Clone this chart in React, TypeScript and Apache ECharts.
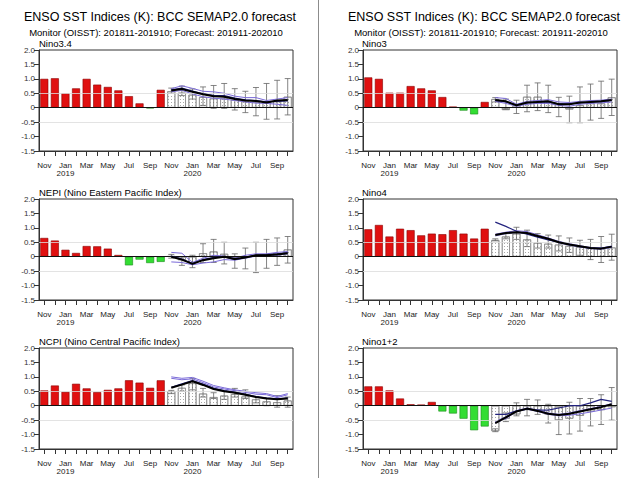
import React, { useEffect, useRef } from "react";
import * as echarts from "echarts";

const FONT = "'Liberation Sans', Arial, Helvetica, sans-serif";

const months = ["Nov","Dec","Jan","Feb","Mar","Apr","May","Jun","Jul","Aug","Sep","Oct","Nov","Dec","Jan","Feb","Mar","Apr","May","Jun","Jul","Aug","Sep","Oct"];
const years = ["2018","2018","2019","2019","2019","2019","2019","2019","2019","2019","2019","2019","2019","2019","2020","2020","2020","2020","2020","2020","2020","2020","2020","2020"];
const categories = months.map((m, i) => m + " " + years[i]);
const yTicks = [-1.5, -1.0, -0.5, 0, 0.5, 1.0, 1.5, 2.0];

const mainTitle = "ENSO SST Indices (K): BCC SEMAP2.0 forecast";
const subTitle = "Monitor (OISST): 201811-201910; Forecast: 201911-202010";

// Nino3.4
const nino34Obs = [1.0, 1.02, 0.5, 0.67, 1.0, 0.8, 0.72, 0.6, 0.4, 0.15, -0.02, 0.62];
const nino34Fcst = [0.57, 0.52, 0.45, 0.37, 0.32, 0.32, 0.27, 0.22, 0.2, 0.22, 0.22, 0.38];
const nino34ErrHi = [0.68, 0.75, 0.65, 0.72, 0.77, 0.84, 0.66, 0.57, 0.7, 0.84, 0.95, 1.01];
const nino34ErrLo = [0.5, 0.42, 0.3, 0.08, -0.02, -0.02, -0.08, -0.17, -0.28, -0.4, -0.39, -0.25];
const nino34Mean = [0.6, 0.65, 0.55, 0.47, 0.4, 0.38, 0.3, 0.25, 0.23, 0.18, 0.25, 0.27];
const nino34Navy = [0.62, 0.68, 0.58, 0.48, 0.43, 0.42, 0.33, 0.27, 0.25, 0.2, 0.22, 0.24];
const nino34PurpleHi = [0.66, 0.76, 0.67, 0.57, 0.55, 0.5, 0.4, 0.35, 0.35, 0.25, 0.3, 0.35];
const nino34PurpleLo = [0.55, 0.6, 0.48, 0.38, 0.33, 0.3, 0.25, 0.2, 0.16, 0.15, 0.12, 0.08];

// Nino3
const nino3Obs = [1.05, 1.0, 0.52, 0.52, 0.75, 0.67, 0.6, 0.37, 0.04, -0.1, -0.23, 0.2];
const nino3Fcst = [0.3, -0.08, 0.08, 0.38, 0.38, 0.25, 0.15, -0.06, 0.09, 0.15, 0.15, 0.36];
const nino3ErrHi = [0.35, 0.3, 0.26, 0.78, 0.86, 0.78, 0.36, 0.4, 0.72, 0.82, 0.92, 0.99];
const nino3ErrLo = [0.2, -0.05, -0.2, -0.14, -0.1, -0.17, -0.31, -0.52, -0.52, -0.43, -0.37, -0.27];
const nino3Mean = [0.27, 0.22, 0.08, 0.18, 0.2, 0.22, 0.12, 0.12, 0.18, 0.2, 0.22, 0.27];
const nino3Navy = [0.25, 0.2, 0.1, 0.17, 0.19, 0.2, 0.13, 0.13, 0.17, 0.19, 0.21, 0.25];
const nino3PurpleHi = [0.35, 0.32, 0.12, 0.22, 0.25, 0.28, 0.2, 0.18, 0.22, 0.25, 0.26, 0.3];
const nino3PurpleLo = [0.22, 0.15, 0.05, 0.12, 0.15, 0.15, 0.08, 0.05, 0.12, 0.15, 0.17, 0.2];

// NEPI
const nepiObs = [0.65, 0.56, 0.24, 0.13, 0.37, 0.36, 0.28, 0.06, -0.3, -0.1, -0.22, -0.18];
const nepiFcst = [0.02, -0.12, -0.22, 0.12, 0.18, 0.1, -0.05, 0.0, 0.05, 0.08, 0.12, 0.25];
const nepiErrHi = [0.08, 0.0, 0.05, 0.45, 0.6, 0.5, 0.1, 0.3, 0.5, 0.6, 0.65, 0.7];
const nepiErrLo = [-0.05, -0.3, -0.38, -0.2, -0.2, -0.25, -0.4, -0.42, -0.55, -0.4, -0.3, -0.22];
const nepiMean = [0.0, -0.1, -0.25, -0.12, -0.05, 0.0, -0.08, -0.03, 0.05, 0.05, 0.08, 0.12];
const nepiNavy = [0.02, -0.08, -0.24, -0.1, -0.02, 0.0, -0.1, -0.02, 0.06, 0.07, 0.1, 0.14];
const nepiPurpleHi = [0.15, 0.12, -0.2, -0.05, 0.05, 0.02, -0.05, 0.05, 0.1, 0.1, 0.15, 0.18];
const nepiPurpleLo = [-0.18, -0.2, -0.28, -0.22, -0.18, -0.1, -0.12, -0.05, 0.02, 0.05, 0.05, 0.1];

// Nino4
const nino4Obs = [0.95, 1.1, 0.7, 0.97, 0.92, 0.74, 0.8, 0.78, 0.92, 0.8, 0.63, 0.97];
const nino4Fcst = [0.58, 0.7, 0.8, 0.6, 0.48, 0.45, 0.42, 0.38, 0.33, 0.3, 0.3, 0.32];
const nino4ErrHi = [0.62, 0.8, 1.02, 0.92, 0.8, 0.75, 0.72, 0.65, 0.57, 0.6, 0.7, 0.78];
const nino4ErrLo = [0.55, 0.62, 0.6, 0.35, 0.3, 0.3, 0.2, 0.15, 0.05, -0.1, -0.2, -0.12];
const nino4Mean = [0.75, 0.82, 0.85, 0.82, 0.72, 0.62, 0.5, 0.42, 0.36, 0.3, 0.28, 0.35];
const nino4Navy = [1.2, 1.05, 0.88, 0.78, 0.68, 0.58, 0.5, 0.42, 0.35, 0.3, 0.3, 0.35];
const nino4PurpleHi = [0.78, 0.85, 0.9, 0.87, 0.76, 0.65, 0.53, 0.45, 0.38, 0.32, 0.3, 0.37];
const nino4PurpleLo = [0.72, 0.8, 0.84, 0.8, 0.7, 0.6, 0.48, 0.4, 0.34, 0.28, 0.26, 0.32];

// NCPI
const ncpiObs = [0.53, 0.7, 0.48, 0.76, 0.6, 0.47, 0.55, 0.6, 0.88, 0.8, 0.62, 0.88];
const ncpiFcst = [0.5, 0.62, 0.78, 0.42, 0.3, 0.35, 0.4, 0.32, 0.22, 0.15, 0.12, 0.18];
const ncpiErrHi = [0.53, 0.72, 0.95, 0.6, 0.45, 0.5, 0.6, 0.55, 0.32, 0.25, 0.35, 0.3];
const ncpiErrLo = [0.42, 0.5, 0.55, 0.3, 0.25, 0.22, 0.3, 0.25, 0.1, 0.0, -0.05, -0.05];
const ncpiMean = [0.62, 0.73, 0.85, 0.72, 0.58, 0.5, 0.45, 0.38, 0.3, 0.25, 0.22, 0.25];
const ncpiNavy = [0.64, 0.76, 0.87, 0.75, 0.6, 0.52, 0.47, 0.4, 0.32, 0.27, 0.24, 0.27];
const ncpiPurpleHi = [1.0, 0.95, 0.98, 0.85, 0.7, 0.62, 0.55, 0.5, 0.45, 0.42, 0.32, 0.42];
const ncpiPurpleLo = [0.95, 0.9, 0.93, 0.8, 0.65, 0.58, 0.52, 0.46, 0.4, 0.38, 0.28, 0.38];

// Nino1+2
const nino12Obs = [0.67, 0.67, 0.53, 0.25, 0.05, 0.04, 0.13, -0.2, -0.27, -0.45, -0.85, -0.72];
const nino12Fcst = [-0.88, -0.45, -0.3, -0.15, -0.15, -0.3, -0.5, -0.45, -0.35, -0.2, -0.15, -0.05];
const nino12ErrHi = [-0.8, -0.25, 0.1, 0.22, 0.2, 0.05, -0.05, 0.12, 0.25, 0.25, 0.38, 0.63];
const nino12ErrLo = [-0.9, -0.55, -0.35, -0.35, -0.3, -0.6, -1.0, -0.98, -0.88, -0.7, -0.65, -0.5];
const nino12Mean = [-0.6, -0.4, -0.2, -0.1, -0.18, -0.28, -0.32, -0.28, -0.2, -0.12, -0.05, 0.05];
const nino12Navy = [-0.3, -0.3, -0.18, -0.12, -0.15, -0.15, -0.08, 0.0, 0.0, 0.1, 0.22, 0.15];
const nino12PurpleHi = [-0.55, -0.38, -0.17, -0.08, -0.15, -0.25, -0.3, -0.25, -0.17, -0.1, -0.02, 0.07];
const nino12PurpleLo = [-0.6, -0.45, -0.2, -0.12, -0.2, -0.3, -0.35, -0.33, -0.28, -0.22, -0.15, -0.08];

const panels = [
  { name: "Nino3.4", obs: nino34Obs, fcst: nino34Fcst, hi: nino34ErrHi, lo: nino34ErrLo, mean: nino34Mean, navy: nino34Navy, pHi: nino34PurpleHi, pLo: nino34PurpleLo },
  { name: "NEPI (Nino Eastern Pacific Index)", obs: nepiObs, fcst: nepiFcst, hi: nepiErrHi, lo: nepiErrLo, mean: nepiMean, navy: nepiNavy, pHi: nepiPurpleHi, pLo: nepiPurpleLo },
  { name: "NCPI (Nino Central Pacific Index)", obs: ncpiObs, fcst: ncpiFcst, hi: ncpiErrHi, lo: ncpiErrLo, mean: ncpiMean, navy: ncpiNavy, pHi: ncpiPurpleHi, pLo: ncpiPurpleLo },
  { name: "Nino3", obs: nino3Obs, fcst: nino3Fcst, hi: nino3ErrHi, lo: nino3ErrLo, mean: nino3Mean, navy: nino3Navy, pHi: nino3PurpleHi, pLo: nino3PurpleLo },
  { name: "Nino4", obs: nino4Obs, fcst: nino4Fcst, hi: nino4ErrHi, lo: nino4ErrLo, mean: nino4Mean, navy: nino4Navy, pHi: nino4PurpleHi, pLo: nino4PurpleLo },
  { name: "Nino1+2", obs: nino12Obs, fcst: nino12Fcst, hi: nino12ErrHi, lo: nino12ErrLo, mean: nino12Mean, navy: nino12Navy, pHi: nino12PurpleHi, pLo: nino12PurpleLo },
];

const layout = [
  { left: 39, top: 50 },
  { left: 39, top: 199 },
  { left: 39, top: 348 },
  { left: 363, top: 50 },
  { left: 363, top: 199 },
  { left: 363, top: 348 },
];
const GW = 254;
const GH = 101;

const blanks = (n: number) => Array.from({ length: n }, () => "-");

function buildOption() {
  const grid: any[] = [];
  const xAxis: any[] = [];
  const yAxis: any[] = [];
  const series: any[] = [];
  const graphic: any[] = [];

  panels.forEach((p, i) => {
    const l = layout[i];
    grid.push({ left: l.left, top: l.top, width: GW, height: GH, show: true, borderColor: "#333", borderWidth: 1, backgroundColor: "transparent" });
    xAxis.push({
      type: "category",
      gridIndex: i,
      data: categories,
      boundaryGap: true,
      axisLine: { show: true, onZero: false, lineStyle: { color: "#333", width: 1 } },
      axisTick: { show: true, alignWithLabel: true, interval: 0, length: 5, inside: false, lineStyle: { color: "#333", width: 1 } },
      axisLabel: {
        interval: 1,
        fontSize: 8,
        fontFamily: FONT,
        color: "#222",
        margin: 10,
        lineHeight: 8.5,
        formatter: (v: string) => {
          const parts = v.split(" ");
          return parts[0] === "Jan" ? parts[0] + "\n" + parts[1] : parts[0];
        },
      },
      splitLine: { show: false },
    });
    yAxis.push({
      type: "value",
      gridIndex: i,
      min: yTicks[0],
      max: yTicks[yTicks.length - 1],
      interval: 0.5,
      axisLine: { show: true, lineStyle: { color: "#333", width: 1 } },
      axisTick: { show: true, length: 5, inside: false, lineStyle: { color: "#333", width: 1 } },
      axisLabel: {
        fontSize: 8,
        fontFamily: FONT,
        color: "#333",
        margin: 4,
        formatter: (v: number) => (Math.abs(v) < 1e-9 ? "0" : v.toFixed(1)),
      },
      splitLine: { show: false },
    });

    series.push({
      type: "line",
      xAxisIndex: i,
      yAxisIndex: i,
      data: blanks(24),
      z: 1,
      silent: true,
      markLine: {
        silent: true,
        symbol: "none",
        label: { show: false },
        lineStyle: { color: "#dcdcdc", width: 0.8, type: "solid" },
        data: [{ yAxis: 0.5 }, { yAxis: -0.5 }],
      },
    });

    series.push({
      type: "bar",
      xAxisIndex: i,
      yAxisIndex: i,
      barWidth: 8,
      barGap: "-100%",
      z: 2,
      data: [
        ...p.obs.map((v) => ({
          value: v,
          itemStyle: v >= 0
            ? { color: "#e01010", borderColor: "#8a0000", borderWidth: 0.6 }
            : { color: "#33dd33", borderColor: "#1a8a1a", borderWidth: 0.6 },
        })),
        ...blanks(12),
      ],
    });

    series.push({
      type: "bar",
      xAxisIndex: i,
      yAxisIndex: i,
      barWidth: 8,
      barGap: "-100%",
      z: 2,
      itemStyle: {
        color: "#ffffff",
        borderColor: "#8a8a8a",
        borderWidth: 0.7,
        decal: {
          symbol: "rect",
          symbolSize: 1,
          dashArrayX: [1, 2],
          dashArrayY: [1, 2],
          color: "#a8a8a8",
        },
      },
      data: [...blanks(12), ...p.fcst],
    });

    series.push({
      type: "custom",
      xAxisIndex: i,
      yAxisIndex: i,
      z: 3,
      silent: true,
      encode: { x: 0, y: [1, 2] },
      data: p.hi.map((h, k) => [12 + k, p.lo[k], h]),
      renderItem: (params: any, api: any) => {
        const x = api.value(0);
        const pLo = api.coord([x, api.value(1)]);
        const pHi = api.coord([x, api.value(2)]);
        const hw = 3;
        const style = { stroke: "#666", lineWidth: 0.8, fill: "none" };
        return {
          type: "group",
          children: [
            { type: "line", shape: { x1: pLo[0], y1: pLo[1], x2: pHi[0], y2: pHi[1] }, style },
            { type: "line", shape: { x1: pLo[0] - hw, y1: pLo[1], x2: pLo[0] + hw, y2: pLo[1] }, style },
            { type: "line", shape: { x1: pHi[0] - hw, y1: pHi[1], x2: pHi[0] + hw, y2: pHi[1] }, style },
          ],
        };
      },
    });

    const lineSeries = (data: number[], color: string, width: number, z: number) => ({
      type: "line",
      xAxisIndex: i,
      yAxisIndex: i,
      data: [...blanks(12), ...data],
      showSymbol: false,
      symbol: "none",
      smooth: false,
      z,
      silent: true,
      lineStyle: { color, width },
    });
    series.push(lineSeries(p.pHi, "#7a6ad8", 1, 4));
    series.push(lineSeries(p.pLo, "#7a6ad8", 1, 4));
    series.push(lineSeries(p.navy, "#23237e", 1.2, 5));
    series.push(lineSeries(p.mean, "#000000", 2, 6));

    series.push({
      type: "line",
      xAxisIndex: i,
      yAxisIndex: i,
      data: blanks(24),
      z: 7,
      silent: true,
      markLine: {
        silent: true,
        symbol: "none",
        label: { show: false },
        lineStyle: { color: "#111", width: 1, type: "solid" },
        data: [{ yAxis: 0 }],
      },
    });

    graphic.push({
      type: "text",
      x: l.left - (i < 3 ? 0 : 1),
      y: l.top - 7,
      style: { text: p.name, fontSize: 9.5, fontFamily: FONT, fill: "#000", align: "left", verticalAlign: "middle", textAlign: "left", textVerticalAlign: "middle" },
    });
  });

  graphic.push(
    { type: "text", x: 160, y: 17, style: { text: mainTitle, fontSize: 12.5, fontFamily: FONT, fill: "#000", align: "center", verticalAlign: "middle", textAlign: "center", textVerticalAlign: "middle" } },
    { type: "text", x: 156, y: 32, style: { text: subTitle, fontSize: 9.5, fontFamily: FONT, fill: "#000", align: "center", verticalAlign: "middle", textAlign: "center", textVerticalAlign: "middle" } },
    { type: "text", x: 484, y: 17, style: { text: mainTitle, fontSize: 12.5, fontFamily: FONT, fill: "#000", align: "center", verticalAlign: "middle", textAlign: "center", textVerticalAlign: "middle" } },
    { type: "text", x: 481, y: 32, style: { text: subTitle, fontSize: 9.5, fontFamily: FONT, fill: "#000", align: "center", verticalAlign: "middle", textAlign: "center", textVerticalAlign: "middle" } },
    { type: "line", shape: { x1: 318.5, y1: 0, x2: 318.5, y2: 478 }, style: { stroke: "#8c8c8c", lineWidth: 1 } }
  );

  return {
    animation: false,
    backgroundColor: "#ffffff",
    grid,
    xAxis,
    yAxis,
    series,
    graphic,
  };
}

export default function App() {
  const ref = useRef<HTMLDivElement>(null);
  useEffect(() => {
    if (!ref.current) return;
    const chart = echarts.init(ref.current, undefined, { renderer: "svg" });
    chart.setOption(buildOption() as any);
    return () => chart.dispose();
  }, []);
  return (
    <div
      ref={ref}
      style={{ position: "fixed", left: 0, top: 0, width: 640, height: 478, background: "#fff" }}
    />
  );
}
